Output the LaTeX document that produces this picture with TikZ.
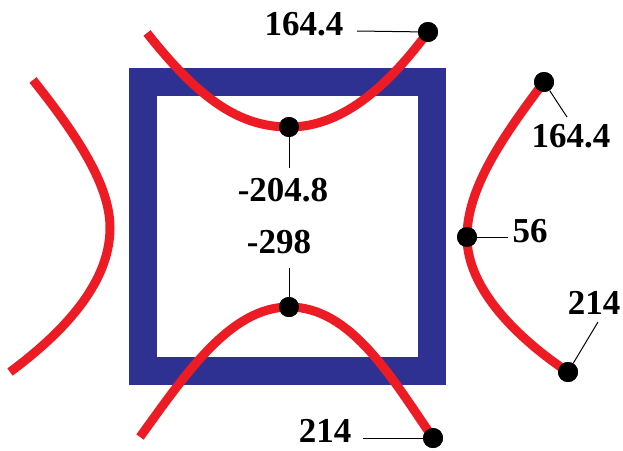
\documentclass[tikz,border=0pt]{standalone}
\usepackage{fontspec}
\setmainfont{Liberation Serif}
\usepackage{tikz}
\usetikzlibrary{positioning, calc}
\definecolor{frameblue}{HTML}{2E3192}
\definecolor{curvered}{HTML}{ED1C24}
\tikzset{
    frame/.style={
        draw=frameblue,
        line width=28pt
    },
    curve/.style={
        draw=curvered,
        line width=9pt
    },
    dot/.style={
        circle,
        fill=black,
        inner sep=0pt,
        minimum size=20pt
    },
    value/.style={
        font=\fontsize{35}{40}\selectfont\bfseries,
        inner sep=0pt
    },
    leader/.style={
        draw=black,
        line width=1pt
    }
}

\begin{document}
\begin{tikzpicture}[x=1pt, y=-1pt]
    \useasboundingbox (0,0) rectangle (623,450);
    \draw[frame] (143,82) rectangle (432,371);

    % points on the curves
    \node[dot] (topR) at (428,32) {};
    \node[dot] (topMin) at (289,127) {};
    \node[dot] (botMax) at (289,307) {};
    \node[dot] (botR) at (433,438) {};
    \node[dot] (rgtT) at (544,82) {};
    \node[dot] (rgtM) at (467,237) {};
    \node[dot] (rgtB) at (568,372) {};
    \coordinate (topL) at (147,33);
    \coordinate (botL) at (140,437);
    \coordinate (lftT) at (33,80);
    \coordinate (lftM) at (110,228);
    \coordinate (lftB) at (10,372);

    \path[curve] (topL) .. controls (200,100) and (240,127) .. (topMin.center)
        .. controls (340,127) and (385,90) .. (topR.center);
    \path[curve] (botL) .. controls (185,375) and (230,307) .. (botMax.center)
        .. controls (350,307) and (390,375) .. (botR.center);
    \path[curve] (lftT) .. controls (85,145) and (110,190) .. (lftM)
        .. controls (110,285) and (60,335) .. (lftB);
    \path[curve] (rgtT.center) .. controls (500,140) and (467,190) .. (rgtM.center)
        .. controls (467,290) and (520,340) .. (rgtB.center);

    % redraw dots over the curves
    \foreach \p in {topR, topMin, botMax, botR, rgtT, rgtM, rgtB}
        \fill (\p) circle (10pt);

    % values and leaders
    \node[value] (vTopR) at (304,24) {164.4};
    \node[value] (vTopMin) at (283,190) {-204.8};
    \node[value] (vBotMax) at (279,242) {-298};
    \node[value] (vBotR) at (325,431) {214};
    \node[value] (vRgtT) at (571,136) {164.4};
    \node[value] (vRgtM) at (530,231) {56};
    \node[value] (vRgtB) at (594,303) {214};

    \coordinate (eTopR) at (357,31);
    \coordinate (eTopMin) at (289,168);
    \coordinate (eBotMax) at (289,268);
    \coordinate (eBotR) at (363,438);
    \coordinate (eRgtT) at (567,117);
    \coordinate (eRgtM) at (508,237);
    \coordinate (eRgtB) at (598,322);

    \draw[leader] (topR) -- (eTopR);
    \draw[leader] (topMin) -- (eTopMin);
    \draw[leader] (botMax) -- (eBotMax);
    \draw[leader] (botR) -- (eBotR);
    \draw[leader] (rgtT) -- (eRgtT);
    \draw[leader] (rgtM) -- (eRgtM);
    \draw[leader] (rgtB) -- (eRgtB);
\end{tikzpicture}
\end{document}
